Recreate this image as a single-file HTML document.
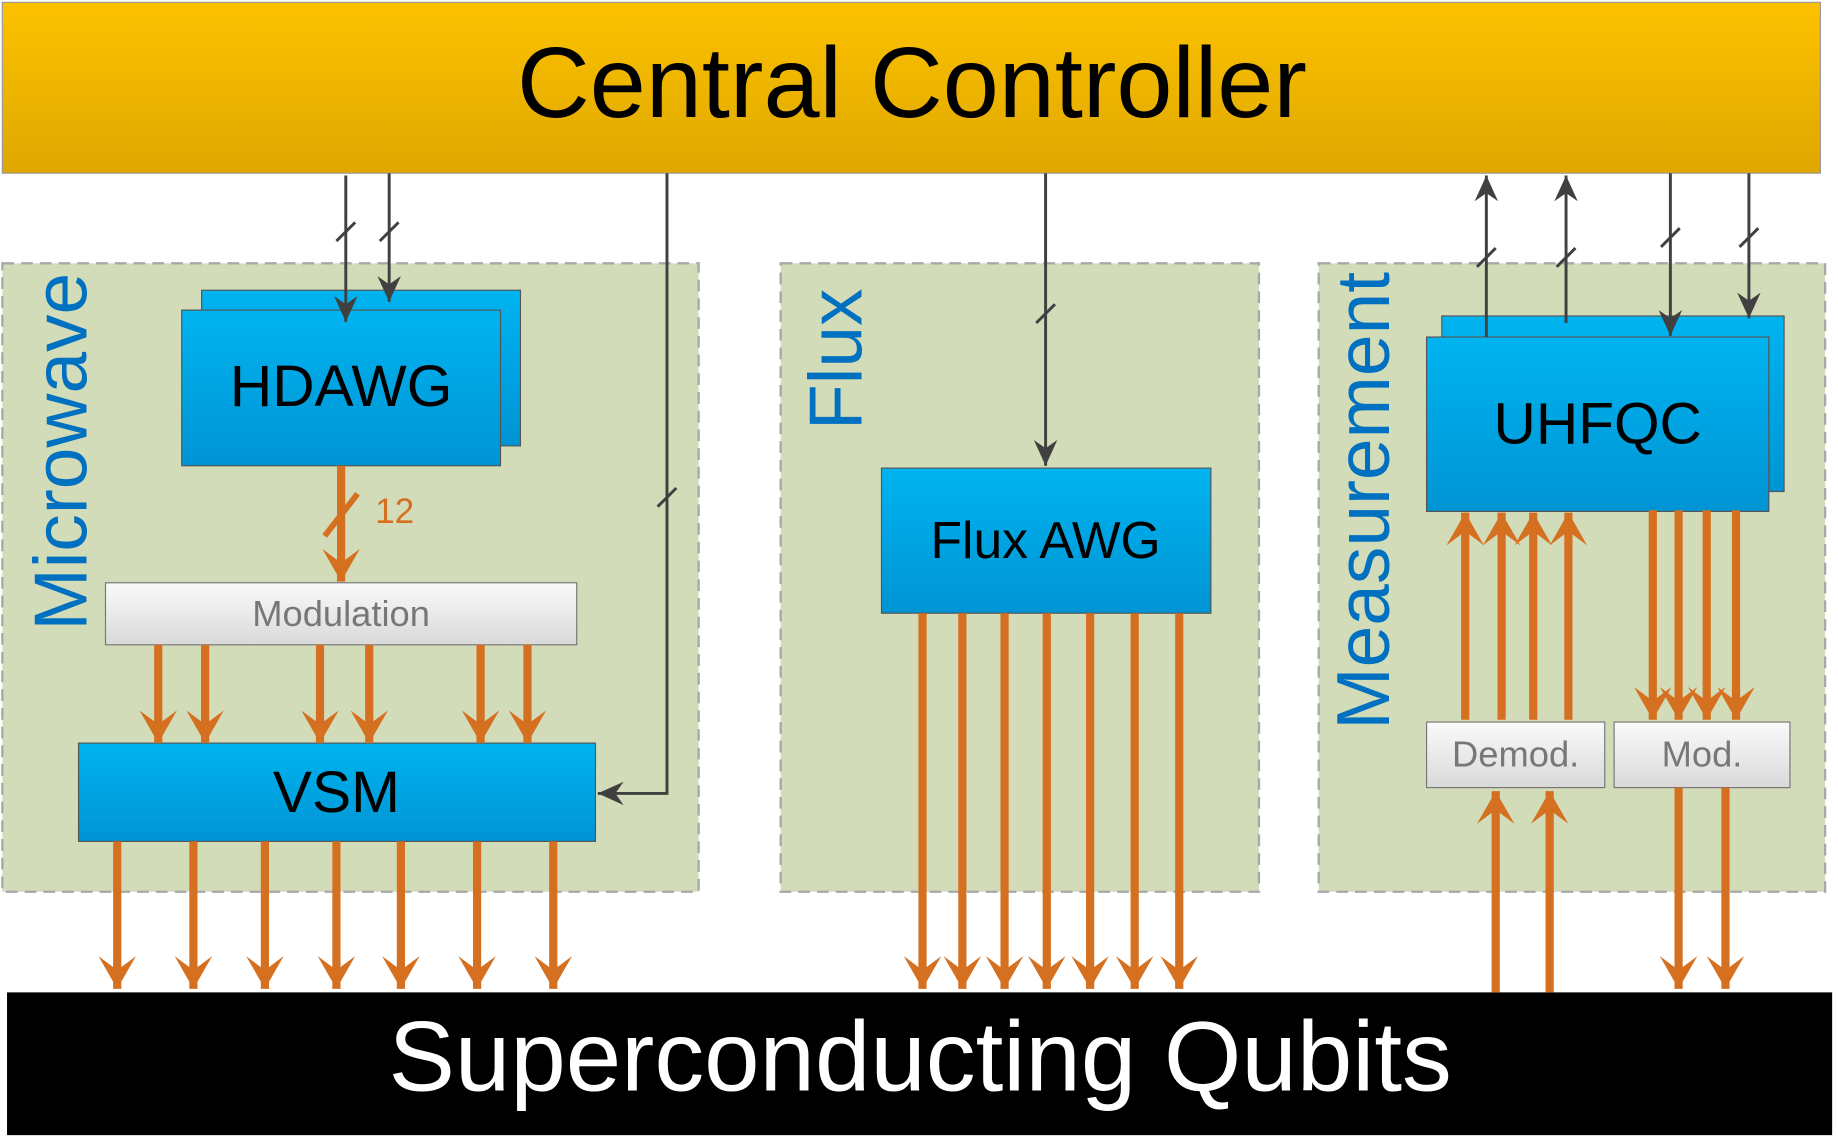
<!DOCTYPE html>
<html><head><meta charset="utf-8"><style>html,body{margin:0;padding:0;background:#fff}svg{display:block}</style></head><body>
<svg width="1838" height="1141" viewBox="0 0 1568 975" preserveAspectRatio="none" xmlns="http://www.w3.org/2000/svg" font-family="Liberation Sans, sans-serif">
<defs>
<linearGradient id="gy" x1="0" y1="0" x2="0" y2="1"><stop offset="0" stop-color="#fcc200"/><stop offset="1" stop-color="#dfa700"/></linearGradient>
<linearGradient id="bl" x1="0" y1="0" x2="0" y2="1"><stop offset="0" stop-color="#00b4f0"/><stop offset="1" stop-color="#0094d4"/></linearGradient>
<linearGradient id="gr" x1="0" y1="0" x2="0" y2="1"><stop offset="0" stop-color="#fafafa"/><stop offset="1" stop-color="#d9d9d9"/></linearGradient>
<marker id="ao" markerWidth="32" markerHeight="34" refX="30" refY="17" orient="auto-start-reverse" markerUnits="userSpaceOnUse" viewBox="0 0 32 34"><path d="M2,1 L30,17 L2,33 L14,17 Z" fill="#d57020"/></marker>
<marker id="ad" markerWidth="26" markerHeight="22" refX="24" refY="11" orient="auto-start-reverse" markerUnits="userSpaceOnUse" viewBox="0 0 26 22"><path d="M2,1 L24,11 L2,21 L9,11 Z" fill="#404040"/></marker>
</defs>
<rect x="2" y="2" width="1551" height="146" fill="url(#gy)" stroke="#999" stroke-width="1"/>
<text x="778" y="100" font-size="86" text-anchor="middle">Central Controller</text>
<g fill="#d3dcb8" stroke="#a8a8a8" stroke-width="2" stroke-dasharray="10,6">
<rect x="2" y="225" width="594" height="537"/><rect x="666" y="225" width="408" height="537"/><rect x="1125" y="225" width="432" height="537"/></g>
<g fill="#0070c0" font-size="64">
<text transform="translate(74,386) rotate(-90)" text-anchor="middle">Microwave</text>
<text transform="translate(735,307) rotate(-90)" text-anchor="middle">Flux</text>
<text transform="translate(1185,428) rotate(-90)" text-anchor="middle">Measurement</text></g>
<rect x="172" y="248" width="272" height="133" fill="url(#bl)" stroke="#555"/>
<rect x="155" y="265" width="272" height="133" fill="url(#bl)" stroke="#555"/>
<text x="291" y="347" font-size="50" text-anchor="middle">HDAWG</text>
<rect x="90" y="498" width="402" height="53" fill="url(#gr)" stroke="#777"/>
<text x="291" y="535" font-size="31" fill="#777" text-anchor="middle">Modulation</text>
<rect x="67" y="635" width="441" height="84" fill="url(#bl)" stroke="#555"/>
<text x="287" y="694" font-size="50" text-anchor="middle">VSM</text>
<rect x="752" y="400" width="281" height="124" fill="url(#bl)" stroke="#555"/>
<text x="892" y="477" font-size="44" text-anchor="middle">Flux AWG</text>
<rect x="1230" y="270" width="292" height="150" fill="url(#bl)" stroke="#555"/>
<rect x="1217" y="288" width="292" height="149" fill="url(#bl)" stroke="#555"/>
<text x="1363" y="379" font-size="50" text-anchor="middle">UHFQC</text>
<rect x="1217" y="617" width="152" height="56" fill="url(#gr)" stroke="#777"/>
<text x="1293" y="655" font-size="31" fill="#777" text-anchor="middle">Demod.</text>
<rect x="1377" y="617" width="150" height="56" fill="url(#gr)" stroke="#777"/>
<text x="1452" y="655" font-size="31" fill="#777" text-anchor="middle">Mod.</text>
<rect x="6" y="848" width="1557" height="122" fill="#000"/>
<text x="785" y="932" font-size="85" fill="#fff" text-anchor="middle">Superconducting Qubits</text>
<g stroke="#404040" stroke-width="2.5" fill="none">
<line x1="295" y1="150" x2="295" y2="275" marker-end="url(#ad)"/>
<line x1="332" y1="148" x2="332" y2="258" marker-end="url(#ad)"/>
<polyline points="569,148 569,678 510,678" marker-end="url(#ad)"/>
<line x1="892" y1="148" x2="892" y2="398" marker-end="url(#ad)"/>
<line x1="1268" y1="288" x2="1268" y2="150" marker-end="url(#ad)"/>
<line x1="1336" y1="276" x2="1336" y2="150" marker-end="url(#ad)"/>
<line x1="1425" y1="148" x2="1425" y2="287" marker-end="url(#ad)"/>
<line x1="1492" y1="148" x2="1492" y2="272" marker-end="url(#ad)"/>
<path d="M287,206 l16,-16 M324,206 l16,-16 M561,433 l16,-16 M884,276 l16,-16 M1260,228 l16,-16 M1328,228 l16,-16 M1417,211 l16,-16 M1484,211 l16,-16"/>
</g>
<g stroke="#d57020" stroke-width="7" fill="none" marker-end="url(#ao)">
<line x1="291" y1="398" x2="291" y2="497"/>
<line x1="135" y1="551" x2="135" y2="635"/><line x1="175" y1="551" x2="175" y2="635"/>
<line x1="273" y1="551" x2="273" y2="635"/><line x1="315" y1="551" x2="315" y2="635"/>
<line x1="410" y1="551" x2="410" y2="635"/><line x1="450" y1="551" x2="450" y2="635"/>
<line x1="100" y1="719" x2="100" y2="845"/><line x1="165" y1="719" x2="165" y2="845"/>
<line x1="226" y1="719" x2="226" y2="845"/><line x1="287" y1="719" x2="287" y2="845"/>
<line x1="342" y1="719" x2="342" y2="845"/><line x1="407" y1="719" x2="407" y2="845"/>
<line x1="472" y1="719" x2="472" y2="845"/>
<line x1="787" y1="524" x2="787" y2="845"/><line x1="821" y1="524" x2="821" y2="845"/>
<line x1="857" y1="524" x2="857" y2="845"/><line x1="893" y1="524" x2="893" y2="845"/>
<line x1="930" y1="524" x2="930" y2="845"/><line x1="968" y1="524" x2="968" y2="845"/>
<line x1="1006" y1="524" x2="1006" y2="845"/>
<line x1="1250" y1="615" x2="1250" y2="438"/><line x1="1281" y1="615" x2="1281" y2="438"/>
<line x1="1308" y1="615" x2="1308" y2="438"/><line x1="1338" y1="615" x2="1338" y2="438"/>
<line x1="1410" y1="436" x2="1410" y2="615"/><line x1="1432" y1="436" x2="1432" y2="615"/>
<line x1="1456" y1="436" x2="1456" y2="615"/><line x1="1481" y1="436" x2="1481" y2="615"/>
<line x1="1276" y1="848" x2="1276" y2="676"/><line x1="1322" y1="848" x2="1322" y2="676"/>
<line x1="1432" y1="673" x2="1432" y2="845"/><line x1="1472" y1="673" x2="1472" y2="845"/>
</g>
<path d="M277,458 l28,-36" stroke="#d57020" stroke-width="5"/>
<text x="320" y="447" font-size="30" fill="#d57020">12</text>
</svg>
</body></html>
